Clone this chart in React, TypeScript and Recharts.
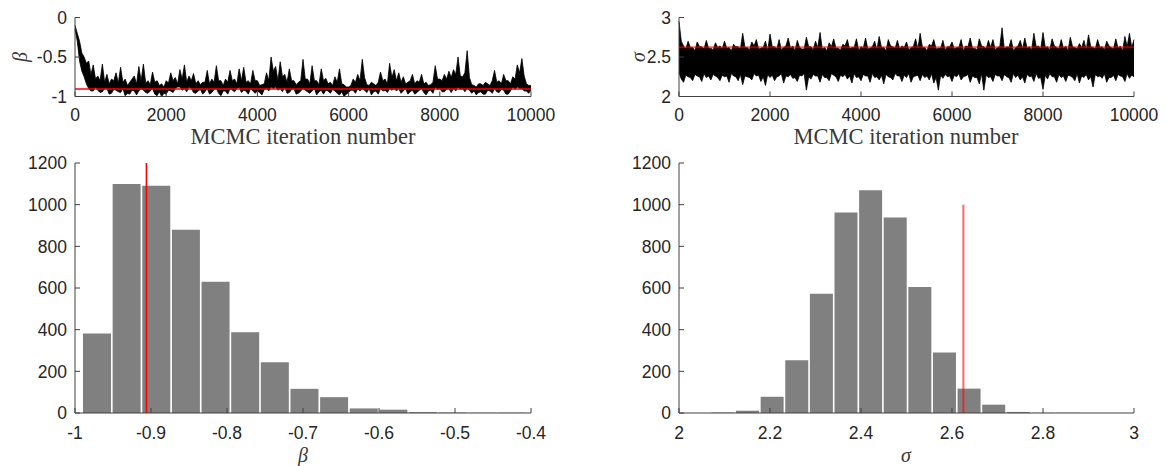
import React from 'react'
import { ComposedChart, Area, Bar, XAxis, YAxis, ReferenceLine } from 'recharts'

// axis ticks
const iterTicks = [0, 2000, 4000, 6000, 8000, 10000]
const betaTraceTicks = [-1, -0.5, 0]
const sigmaTraceTicks = [2, 2.5, 3]
const betaHistTicks = [-1, -0.9, -0.8, -0.7, -0.6, -0.5, -0.4]
const sigmaHistTicks = [2, 2.2, 2.4, 2.6, 2.8, 3]
const countTicks = [0, 200, 400, 600, 800, 1000, 1200]

// true parameter values (red lines)
const betaTrue = -0.906
const sigmaTrue = 2.625
const sigmaMarkerTop = 1000

// MCMC traces, envelope (low / high) read every 100 iterations,
// plus the in-between readings at +50 iterations
const traceStep = 100
const betaHigh = [
  -0.10, -0.30, -0.50, -0.55, -0.60, -0.74, -0.59, -0.72, -0.78, -0.70,
  -0.63, -0.78, -0.82, -0.74, -0.62, -0.59, -0.80, -0.69, -0.80, -0.84,
  -0.80, -0.70, -0.76, -0.66, -0.60, -0.74, -0.71, -0.80, -0.82, -0.67,
  -0.78, -0.61, -0.80, -0.78, -0.67, -0.78, -0.65, -0.63, -0.80, -0.67,
  -0.80, -0.85, -0.70, -0.50, -0.62, -0.56, -0.72, -0.65, -0.80, -0.82,
  -0.53, -0.78, -0.61, -0.80, -0.65, -0.77, -0.82, -0.75, -0.65, -0.85,
  -0.88, -0.78, -0.72, -0.53, -0.85, -0.82, -0.86, -0.69, -0.78, -0.58,
  -0.66, -0.70, -0.75, -0.82, -0.72, -0.80, -0.72, -0.82, -0.85, -0.61,
  -0.78, -0.72, -0.68, -0.66, -0.50, -0.75, -0.42, -0.85, -0.88, -0.84,
  -0.82, -0.86, -0.67, -0.80, -0.72, -0.80, -0.75, -0.60, -0.52, -0.84,
  -0.86,
]
const betaHighMid = [
  -0.20, -0.45, -0.58, -0.72, -0.78, -0.80, -0.82, -0.84, -0.80, -0.83,
  -0.82, -0.86, -0.78, -0.84, -0.80, -0.83, -0.85, -0.82, -0.86, -0.88,
  -0.83, -0.80, -0.84, -0.78, -0.82, -0.80, -0.84, -0.85, -0.82, -0.84,
  -0.82, -0.80, -0.86, -0.82, -0.80, -0.84, -0.80, -0.82, -0.84, -0.80,
  -0.86, -0.84, -0.80, -0.68, -0.80, -0.75, -0.82, -0.80, -0.85, -0.80,
  -0.78, -0.84, -0.80, -0.85, -0.80, -0.84, -0.86, -0.82, -0.84, -0.88,
  -0.86, -0.82, -0.80, -0.76, -0.86, -0.84, -0.82, -0.80, -0.84, -0.76,
  -0.80, -0.82, -0.84, -0.80, -0.84, -0.82, -0.84, -0.86, -0.82, -0.78,
  -0.80, -0.78, -0.76, -0.72, -0.74, -0.70, -0.76, -0.86, -0.84, -0.86,
  -0.84, -0.80, -0.82, -0.84, -0.80, -0.84, -0.78, -0.70, -0.74, -0.86,
]
const betaLow = [
  -0.15, -0.55, -0.75, -0.90, -0.93, -0.92, -0.94, -0.90, -0.96, -0.92,
  -0.95, -0.99, -0.97, -0.93, -0.93, -0.92, -0.96, -0.90, -0.99, -1.00,
  -0.97, -0.93, -0.90, -0.88, -0.90, -0.88, -0.95, -0.93, -0.97, -0.90,
  -0.95, -0.90, -0.99, -0.93, -0.90, -0.94, -0.88, -0.92, -0.97, -0.93,
  -0.93, -0.98, -0.90, -0.88, -0.88, -0.90, -0.88, -0.95, -0.90, -0.96,
  -0.90, -0.94, -0.93, -0.98, -0.92, -0.92, -0.96, -0.93, -0.98, -1.00,
  -0.95, -0.92, -0.90, -0.90, -0.95, -0.98, -0.93, -0.90, -0.92, -0.90,
  -0.90, -0.90, -0.93, -0.97, -0.92, -0.95, -0.90, -0.98, -0.92, -0.88,
  -0.90, -0.94, -0.90, -0.90, -0.88, -0.90, -0.90, -0.96, -0.98, -0.94,
  -0.97, -0.93, -0.90, -0.95, -0.92, -0.97, -0.88, -0.88, -0.90, -0.93,
  -0.92,
]
const betaLowMid = [
  -0.30, -0.68, -0.84, -0.93, -0.88, -0.95, -0.90, -0.97, -0.91, -0.94,
  -0.90, -0.96, -0.92, -0.98, -0.90, -0.95, -0.93, -0.97, -0.94, -0.96,
  -0.92, -0.95, -0.88, -0.92, -0.94, -0.90, -0.96, -0.91, -0.94, -0.97,
  -0.91, -0.96, -0.93, -0.97, -0.92, -0.90, -0.95, -0.93, -0.90, -0.96,
  -0.95, -0.91, -0.93, -0.90, -0.92, -0.94, -0.96, -0.91, -0.97, -0.93,
  -0.92, -0.96, -0.90, -0.94, -0.97, -0.93, -0.91, -0.96, -0.94, -0.97,
  -0.92, -0.96, -0.93, -0.92, -0.90, -0.94, -0.97, -0.93, -0.95, -0.92,
  -0.93, -0.96, -0.90, -0.94, -0.97, -0.92, -0.95, -0.93, -0.96, -0.91,
  -0.94, -0.91, -0.95, -0.93, -0.91, -0.94, -0.92, -0.93, -0.95, -0.97,
  -0.92, -0.96, -0.94, -0.91, -0.97, -0.93, -0.91, -0.90, -0.93, -0.96,
]
const sigmaHigh = [
  2.95, 2.64, 2.70, 2.62, 2.69, 2.63, 2.71, 2.61, 2.68, 2.64,
  2.70, 2.62, 2.66, 2.63, 2.80, 2.62, 2.69, 2.72, 2.61, 2.70,
  2.79, 2.63, 2.72, 2.62, 2.74, 2.64, 2.71, 2.60, 2.75, 2.63,
  2.70, 2.81, 2.62, 2.68, 2.73, 2.61, 2.66, 2.72, 2.62, 2.73,
  2.63, 2.74, 2.61, 2.70, 2.76, 2.62, 2.72, 2.63, 2.71, 2.64,
  2.69, 2.62, 2.73, 2.80, 2.62, 2.66, 2.72, 2.61, 2.71, 2.63,
  2.69, 2.62, 2.72, 2.64, 2.74, 2.61, 2.73, 2.63, 2.71, 2.72,
  2.62, 2.87, 2.63, 2.72, 2.62, 2.71, 2.74, 2.63, 2.80, 2.64,
  2.81, 2.63, 2.73, 2.62, 2.72, 2.64, 2.75, 2.62, 2.67, 2.71,
  2.78, 2.62, 2.72, 2.63, 2.70, 2.62, 2.73, 2.64, 2.76, 2.80,
  2.72,
]
const sigmaHighMid = [
  2.70, 2.60, 2.62, 2.58, 2.63, 2.60, 2.61, 2.59, 2.62, 2.60,
  2.61, 2.58, 2.63, 2.60, 2.62, 2.59, 2.64, 2.60, 2.62, 2.58,
  2.63, 2.60, 2.59, 2.64, 2.61, 2.58, 2.62, 2.60, 2.63, 2.59,
  2.62, 2.60, 2.58, 2.63, 2.61, 2.59, 2.64, 2.60, 2.62, 2.58,
  2.61, 2.60, 2.63, 2.59, 2.62, 2.58, 2.64, 2.61, 2.60, 2.62,
  2.59, 2.63, 2.60, 2.62, 2.58, 2.64, 2.60, 2.61, 2.59, 2.63,
  2.60, 2.62, 2.58, 2.63, 2.61, 2.59, 2.64, 2.60, 2.62, 2.59,
  2.63, 2.60, 2.62, 2.58, 2.64, 2.60, 2.61, 2.59, 2.63, 2.60,
  2.62, 2.59, 2.64, 2.60, 2.61, 2.58, 2.63, 2.60, 2.62, 2.59,
  2.63, 2.60, 2.62, 2.59, 2.64, 2.60, 2.61, 2.58, 2.63, 2.62,
]
const sigmaLow = [
  2.30, 2.18, 2.25, 2.20, 2.26, 2.19, 2.24, 2.21, 2.26, 2.20,
  2.25, 2.18, 2.26, 2.20, 2.15, 2.25, 2.21, 2.26, 2.19, 2.14,
  2.24, 2.20, 2.26, 2.17, 2.25, 2.23, 2.19, 2.26, 2.08, 2.22,
  2.26, 2.18, 2.24, 2.20, 2.27, 2.19, 2.25, 2.22, 2.17, 2.24,
  2.20, 2.26, 2.18, 2.24, 2.21, 2.16, 2.25, 2.21, 2.26, 2.19,
  2.24, 2.18, 2.26, 2.20, 2.24, 2.21, 2.17, 2.08, 2.23, 2.25,
  2.19, 2.25, 2.21, 2.26, 2.18, 2.24, 2.16, 2.08, 2.24, 2.19,
  2.26, 2.20, 2.25, 2.18, 2.24, 2.21, 2.17, 2.25, 2.19, 2.23,
  2.09, 2.22, 2.25, 2.18, 2.24, 2.19, 2.26, 2.20, 2.17, 2.24,
  2.21, 2.12, 2.25, 2.23, 2.18, 2.24, 2.20, 2.26, 2.19, 2.23,
  2.25,
]
const sigmaLowMid = [
  2.22, 2.27, 2.24, 2.28, 2.25, 2.29, 2.26, 2.28, 2.24, 2.27,
  2.26, 2.29, 2.25, 2.28, 2.26, 2.24, 2.29, 2.27, 2.25, 2.28,
  2.27, 2.25, 2.29, 2.26, 2.28, 2.24, 2.27, 2.29, 2.25, 2.28,
  2.26, 2.28, 2.24, 2.29, 2.25, 2.27, 2.28, 2.26, 2.29, 2.25,
  2.28, 2.26, 2.29, 2.25, 2.27, 2.28, 2.24, 2.29, 2.26, 2.27,
  2.29, 2.25, 2.27, 2.28, 2.26, 2.29, 2.24, 2.27, 2.28, 2.26,
  2.27, 2.29, 2.25, 2.28, 2.26, 2.24, 2.29, 2.27, 2.25, 2.28,
  2.26, 2.28, 2.24, 2.29, 2.27, 2.25, 2.28, 2.26, 2.29, 2.24,
  2.27, 2.29, 2.25, 2.28, 2.26, 2.27, 2.24, 2.29, 2.26, 2.28,
  2.25, 2.28, 2.26, 2.29, 2.24, 2.27, 2.28, 2.25, 2.29, 2.27,
]

// posterior histograms: bin centres and counts
const betaBins = [
  -0.9713, -0.9323, -0.8933, -0.8543, -0.8153, -0.7763, -0.7373, -0.6983,
  -0.6593, -0.6203, -0.5813, -0.5423, -0.5033, -0.4643, -0.4253,
]
const betaCounts = [382, 1099, 1091, 880, 630, 388, 244, 116, 76, 22, 16, 4, 2, 1, 1]
const sigmaBins = [
  2.0961, 2.1502, 2.2043, 2.2584, 2.3125, 2.3666, 2.4207, 2.4748,
  2.5289, 2.583, 2.6371, 2.6912, 2.7453, 2.7994, 2.8535,
]
const sigmaCounts = [2, 11, 78, 253, 573, 962, 1069, 939, 605, 291, 117, 40, 5, 1, 1]

const toTrace = (low: number[], lowMid: number[], high: number[], highMid: number[]) => {
  const rows: { iter: number; range: number[] }[] = []
  low.forEach((lo, i) => {
    rows.push({ iter: i * traceStep, range: [lo, high[i]] })
    if (i < lowMid.length) {
      rows.push({ iter: i * traceStep + traceStep / 2, range: [lowMid[i], highMid[i]] })
    }
  })
  return rows
}
const toHist = (bins: number[], counts: number[]) =>
  bins.map((c, i) => ({ center: c, count: counts[i] }))

const betaTrace = toTrace(betaLow, betaLowMid, betaHigh, betaHighMid)
const sigmaTrace = toTrace(sigmaLow, sigmaLowMid, sigmaHigh, sigmaHighMid)
const betaHist = toHist(betaBins, betaCounts)
const sigmaHist = toHist(sigmaBins, sigmaCounts)

const axisColor = '#404040'
const tickStyle = {
  fill: '#262626',
  fontSize: 17.5,
  fontFamily: '"Liberation Sans", Arial, sans-serif',
}
const serif = '"Liberation Serif", "Times New Roman", serif'

const leftMargin = { left: 15, right: 52 }
const rightMargin = { left: 36, right: 32 }

function Title({ x, y, text, italic, rotate, size }: any) {
  return (
    <div
      style={{
        position: 'absolute',
        left: x,
        top: y,
        transform: `translate(-50%, -50%)${rotate ? ' rotate(-90deg)' : ''}`,
        fontFamily: serif,
        fontStyle: italic ? 'italic' : 'normal',
        fontSize: size,
        lineHeight: 1,
        color: '#3a3a3a',
        whiteSpace: 'nowrap',
      }}
    >
      {text}
    </div>
  )
}

function TracePanel({ left, margin, data, domain, yTicks, truth, lineStyle }: any) {
  return (
    <div style={{ position: 'absolute', left, top: 0 }}>
      <ComposedChart
        width={583}
        height={150}
        data={data}
        margin={{ top: 17.5, bottom: 3.5, ...margin }}
      >
        <XAxis
          dataKey="iter"
          type="number"
          domain={[0, 10000]}
          ticks={iterTicks}
          interval={0}
          height={50}
          tickSize={-5}
          tickMargin={17}
          axisLine={{ stroke: axisColor }}
          tickLine={{ stroke: axisColor }}
          tick={tickStyle}
        />
        <YAxis
          type="number"
          domain={domain}
          ticks={yTicks}
          interval={0}
          width={60}
          tickSize={-5}
          tickMargin={13}
          axisLine={{ stroke: axisColor }}
          tickLine={{ stroke: axisColor }}
          tick={tickStyle}
        />
        <Area
          type="linear"
          dataKey="range"
          stroke="#000"
          strokeWidth={0.8}
          fill="#000"
          fillOpacity={1}
          dot={false}
          activeDot={false}
          isAnimationActive={false}
        />
        <ReferenceLine y={truth} {...lineStyle} />
      </ComposedChart>
    </div>
  )
}

function HistPanel({ left, margin, data, domain, xTicks, barSize, marker }: any) {
  return (
    <div style={{ position: 'absolute', left, top: 150 }}>
      <ComposedChart
        width={583}
        height={316}
        data={data}
        margin={{ top: 13, bottom: 3, ...margin }}
      >
        <XAxis
          dataKey="center"
          type="number"
          domain={domain}
          ticks={xTicks}
          interval={0}
          height={50}
          tickSize={-5}
          tickMargin={18.7}
          axisLine={{ stroke: axisColor }}
          tickLine={{ stroke: axisColor }}
          tick={tickStyle}
        />
        <YAxis
          type="number"
          domain={[0, 1200]}
          ticks={countTicks}
          interval={0}
          width={60}
          tickSize={-5}
          tickMargin={13}
          axisLine={{ stroke: axisColor }}
          tickLine={{ stroke: axisColor }}
          tick={tickStyle}
        />
        <Bar dataKey="count" fill="#808080" barSize={barSize} isAnimationActive={false} />
        {marker}
      </ComposedChart>
    </div>
  )
}

const redLeft = { stroke: '#ff0000', strokeWidth: 1.6 }
const redRight = { stroke: '#ff0000', strokeOpacity: 0.6, strokeWidth: 2 }

export default function App() {
  return (
    <div
      style={{
        position: 'absolute',
        left: 0,
        top: 0,
        width: 1166,
        height: 466,
        background: '#fff',
        overflow: 'hidden',
      }}
    >
      <TracePanel
        left={0}
        margin={leftMargin}
        data={betaTrace}
        domain={[-1, 0]}
        yTicks={betaTraceTicks}
        truth={betaTrue}
        lineStyle={redLeft}
      />
      <TracePanel
        left={583}
        margin={rightMargin}
        data={sigmaTrace}
        domain={[2, 3]}
        yTicks={sigmaTraceTicks}
        truth={sigmaTrue}
        lineStyle={redRight}
      />
      <HistPanel
        left={0}
        margin={leftMargin}
        data={betaHist}
        domain={[-1, -0.4]}
        xTicks={betaHistTicks}
        barSize={28}
        marker={<ReferenceLine x={betaTrue} {...redLeft} />}
      />
      <HistPanel
        left={583}
        margin={rightMargin}
        data={sigmaHist}
        domain={[2, 3]}
        xTicks={sigmaHistTicks}
        barSize={23}
        marker={
          <ReferenceLine
            segment={[
              { x: sigmaTrue, y: 0 },
              { x: sigmaTrue, y: sigmaMarkerTop },
            ]}
            {...redRight}
          />
        }
      />
      <Title x={20} y={57} text="β" italic rotate size={20} />
      <Title x={638} y={57} text="σ" italic rotate size={20} />
      <Title x={303} y={137} text="MCMC iteration number" size={22.5} />
      <Title x={906} y={137} text="MCMC iteration number" size={22.5} />
      <Title x={303} y={455} text="β" italic size={20} />
      <Title x={906} y={455} text="σ" italic size={20} />
    </div>
  )
}
